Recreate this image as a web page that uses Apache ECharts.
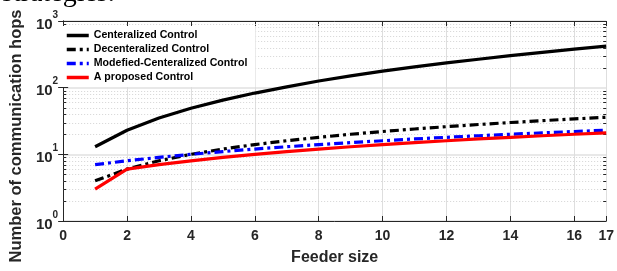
<!DOCTYPE html>
<html>
<head>
<meta charset="utf-8">
<script src="https://cdn.jsdelivr.net/npm/echarts@6/dist/echarts.min.js"></script>
<style>
  html, body { margin: 0; padding: 0; background: #fff; }
  #main { width: 617px; height: 271px; }
</style>
</head>
<body>
<div id="main"></div>
<script>
const feederSize = [1, 2, 3, 4, 5, 6, 7, 8, 9, 10, 11, 12, 13, 14, 15, 16, 17];
const centralized = [13, 23, 35, 49, 65, 83, 103, 126, 150, 177, 205, 235, 267, 302, 338, 378, 420];
const decentralized = [4, 6, 8, 10, 12, 14, 16, 18, 20, 22, 24, 26, 28, 30, 32, 34, 36];
const modifiedCentralized = [7, 8, 9, 10, 11, 12, 13, 14, 15, 16, 17, 18, 19, 20, 21, 22, 23];
const proposed = [3, 6, 7, 8, 9, 10, 11, 12, 13, 14, 15, 16, 17, 18, 19, 20, 21];
const minorTicks = [2, 3, 4, 5, 6, 7, 8, 9, 20, 30, 40, 50, 60, 70, 80, 90, 200, 300, 400, 500, 600, 700, 800, 900];

const font = "Liberation Sans, Arial, sans-serif";
const pairs = (ys) => feederSize.map((x, i) => [x, ys[i]]);

const myChart = echarts.init(document.getElementById("main"));

const lineSeries = (name, ys, color, type) => ({
  name: name,
  type: "line",
  data: pairs(ys),
  symbol: "none",
  showSymbol: false,
  z: 5,
  lineStyle: { color: color, width: 3.2, type: type },
  itemStyle: { color: color },
});

const option = {
  animation: false,
  backgroundColor: "#fff",
  textStyle: { fontFamily: font },
  grid: { left: 57, right: 8, top: 21, bottom: 46 },
  graphic: [
    {
      type: "text",
      left: 2,
      top: -20,
      style: {
        text: "strategies.",
        font: "28px 'Liberation Serif', 'Times New Roman', serif",
        fill: "#000",
      },
    },
  ],
  legend: {
    data: ["Centeralized Control", "Decenteralized Control", "Modefied-Centeralized Control", "A proposed Control"],
    orient: "vertical",
    left: 61,
    top: 26,
    padding: [4, 8, 4, 4],
    backgroundColor: "#fff",
    itemWidth: 22,
    itemHeight: 12,
    itemGap: 3,
    itemStyle: { opacity: 0 },
    lineStyle: { width: 3.5 },
    textStyle: { fontFamily: font, fontWeight: "bold", fontSize: 10.6, color: "#000" },
  },
  xAxis: [
    {
      type: "value",
      min: 0,
      max: 17,
      interval: 2,
      name: "Feeder size",
      nameLocation: "middle",
      nameGap: 29,
      nameTextStyle: { fontFamily: font, fontWeight: "bold", fontSize: 16, color: "#262626" },
      axisLine: { lineStyle: { color: "#262626", width: 1 } },
      axisTick: { inside: true, length: 5, lineStyle: { color: "#262626" } },
      axisLabel: { fontFamily: font, fontWeight: "bold", fontSize: 14, color: "#262626", margin: 8, showMaxLabel: true },
      splitLine: { show: true, lineStyle: { color: "#dedede", width: 1 } },
    },
    {
      type: "value",
      position: "top",
      min: 0,
      max: 17,
      interval: 2,
      axisLine: { lineStyle: { color: "#262626", width: 1 } },
      axisTick: { inside: true, length: 5, lineStyle: { color: "#262626" } },
      axisLabel: { show: false },
      splitLine: { show: false },
    },
  ],
  yAxis: [
    {
      type: "log",
      logBase: 10,
      min: 1,
      max: 1000,
      name: "Number of communication hops",
      nameLocation: "middle",
      nameGap: 34,
      nameTextStyle: { fontFamily: font, fontWeight: "bold", fontSize: 16.5, color: "#262626", padding: [0, 30, 0, 0] },
      axisLine: { show: true, lineStyle: { color: "#262626", width: 1 } },
      axisTick: { inside: true, length: 5, lineStyle: { color: "#262626" } },
      axisLabel: {
        margin: 5,
        formatter: (v) => "{b|10}{s|" + Math.round(Math.log10(v)) + "}",
        rich: {
          b: { fontFamily: font, fontWeight: "bold", fontSize: 15, color: "#262626", lineHeight: 22, verticalAlign: "bottom" },
          s: { fontFamily: font, fontWeight: "bold", fontSize: 10, color: "#262626", verticalAlign: "top" },
        },
      },
      splitLine: { show: true, lineStyle: { color: "#e0e0e0", width: 1.5 } },
    },
    {
      type: "log",
      logBase: 10,
      min: 1,
      max: 1000,
      position: "right",
      axisLine: { show: true, lineStyle: { color: "#262626", width: 1 } },
      axisTick: { inside: true, length: 5, lineStyle: { color: "#262626" } },
      axisLabel: { show: false },
      splitLine: { show: false },
    },
  ],
  series: [
    {
      type: "custom",
      silent: true,
      z: 1,
      data: minorTicks.map((v) => [0, v]),
      encode: { x: 0, y: 1 },
      renderItem: (params, api) => {
        const v = api.value(1);
        const p0 = api.coord([0, v]);
        const p1 = api.coord([17, v]);
        const y = Math.round(p0[1]) + 0.5;
        return {
          type: "group",
          children: [
            {
              type: "line",
              shape: { x1: p0[0], y1: y, x2: p1[0], y2: y },
              style: { stroke: "#d4d4d4", lineWidth: 1, lineDash: [1, 2] },
            },
            {
              type: "line",
              shape: { x1: p0[0], y1: y, x2: p0[0] + 3, y2: y },
              style: { stroke: "#262626", lineWidth: 1 },
            },
            {
              type: "line",
              shape: { x1: p1[0] - 3, y1: y, x2: p1[0], y2: y },
              style: { stroke: "#262626", lineWidth: 1 },
            },
          ],
        };
      },
    },
    lineSeries("Centeralized Control", centralized, "#000000", "solid"),
    lineSeries("Decenteralized Control", decentralized, "#000000", [9, 4, 3, 4]),
    lineSeries("Modefied-Centeralized Control", modifiedCentralized, "#0000ff", [9, 4, 3, 4]),
    lineSeries("A proposed Control", proposed, "#ff0000", "solid"),
  ],
};

myChart.setOption(option);
</script>
</body>
</html>
